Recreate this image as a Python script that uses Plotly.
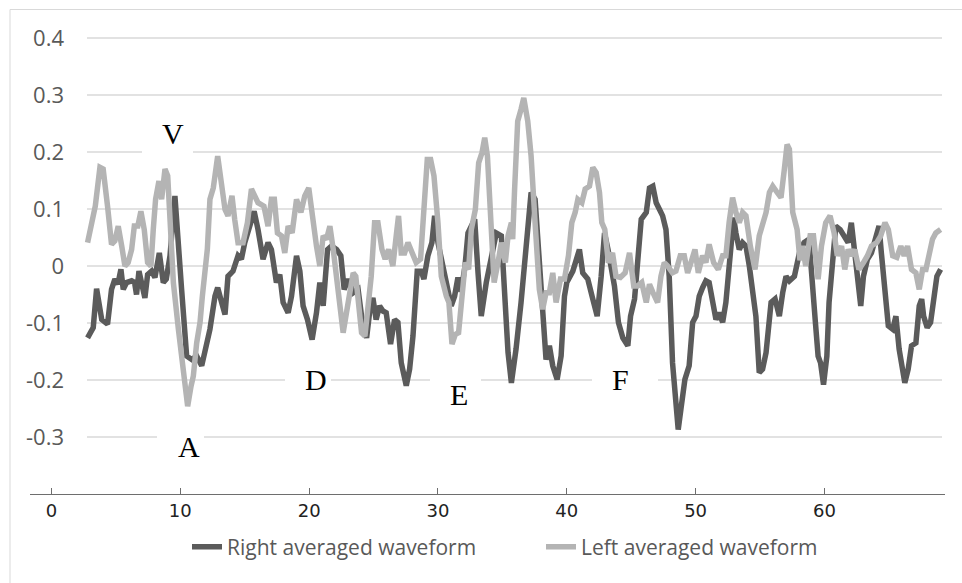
import plotly.graph_objects as go

# ---------------- data ----------------
right_x = [2.80, 3.24, 3.50, 3.70, 3.90, 4.35, 4.66, 4.92, 5.15, 5.39, 5.57, 5.83, 6.22, 6.45, 6.60, 6.79, 7.00, 7.25, 7.46, 7.77,
           8.03, 8.37, 8.68, 8.91, 9.20, 9.58, 10.10, 10.49, 10.88, 11.27, 11.66, 11.92, 12.30, 12.69, 12.90, 13.21, 13.47, 13.70, 14.09, 14.48,
           14.74, 15.00, 15.52, 15.73, 16.03, 16.42, 16.81, 17.07, 17.46, 17.72, 17.98, 18.37, 18.63, 19.02, 19.28, 19.53, 19.87, 20.23, 20.57, 20.83,
           21.09, 21.43, 21.74, 22.13, 22.46, 22.72, 23.03, 23.42, 23.80, 24.07, 24.46, 24.70, 24.95, 25.20, 25.47, 25.73, 25.98, 26.32, 26.63, 26.89,
           27.15, 27.54, 27.80, 28.06, 28.39, 28.70, 28.91, 29.22, 29.53, 29.74, 30.00, 30.39, 30.65, 31.03, 31.29, 31.55, 31.80, 32.10, 32.33, 32.85,
           33.11, 33.36, 33.75, 34.00, 34.53, 34.92, 35.18, 35.44, 35.70, 36.06, 36.45, 36.84, 37.23, 37.54, 37.87, 38.13, 38.39, 38.65, 38.91, 39.25,
           39.56, 39.82, 40.00, 40.47, 40.73, 40.98, 41.24, 41.63, 42.02, 42.36, 42.67, 42.93, 43.20, 43.45, 43.70, 44.01, 44.35, 44.74, 44.95, 45.26,
           45.52, 45.78, 46.17, 46.42, 46.68, 46.94, 47.20, 47.44, 47.70, 47.95, 48.21, 48.42, 48.65, 48.86, 49.17, 49.50, 49.77, 50.03, 50.28, 50.54,
           50.80, 51.05, 51.32, 51.58, 51.83, 52.10, 52.35, 52.60, 52.95, 53.13, 53.39, 53.65, 53.91, 54.17, 54.43, 54.68, 54.94, 55.20, 55.47, 55.86,
           56.17, 56.50, 56.76, 57.02, 57.28, 57.67, 58.06, 58.42, 58.80, 59.07, 59.30, 59.51, 59.70, 59.93, 60.19, 60.36, 60.62, 60.88, 61.22, 61.52,
           61.84, 62.09, 62.35, 62.61, 62.82, 63.03, 63.34, 63.65, 63.91, 64.24, 64.42, 64.70, 64.96, 65.30, 65.55, 65.80, 66.06, 66.24, 66.50, 66.76,
           67.10, 67.36, 67.55, 67.70, 67.98, 68.24, 68.52, 68.73, 69.02]
right_y = [-0.126, -0.108, -0.040, -0.064, -0.094, -0.102, -0.041, -0.023, -0.032, -0.006, -0.041, -0.029, -0.026, -0.029, -0.050, -0.009, -0.032, -0.056, -0.015, -0.009,
           -0.020, 0.023, -0.029, -0.023, 0.018, 0.123, -0.041, -0.158, -0.164, -0.158, -0.175, -0.152, -0.111, -0.053, -0.038, -0.064, -0.085, -0.018, -0.009, 0.018,
           0.012, 0.041, 0.082, 0.096, 0.064, 0.012, 0.041, 0.029, -0.029, -0.015, -0.064, -0.082, -0.053, 0.018, -0.009, -0.070, -0.094, -0.129, -0.082, -0.029,
           -0.070, 0.029, 0.035, 0.029, 0.018, -0.041, -0.023, -0.047, -0.041, -0.088, -0.126, -0.080, -0.056, -0.094, -0.070, -0.079, -0.082, -0.137, -0.094, -0.099,
           -0.170, -0.210, -0.181, -0.123, -0.009, -0.009, -0.023, 0.018, 0.041, 0.088, 0.041, -0.006, -0.035, -0.070, -0.053, -0.020, -0.045, 0.000, 0.058, 0.082,
           -0.012, -0.088, -0.029, 0.000, 0.058, 0.053, -0.041, -0.152, -0.205, -0.146, -0.064, 0.047, 0.129, 0.117, 0.018, -0.088, -0.164, -0.140, -0.175, -0.199,
           -0.158, -0.053, -0.029, -0.009, 0.012, 0.029, -0.012, -0.023, -0.058, -0.088, -0.018, 0.058, 0.029, -0.006, -0.035, -0.099, -0.126, -0.140, -0.088, -0.058,
           0.018, 0.082, 0.094, 0.137, 0.140, 0.111, 0.099, 0.088, 0.064, -0.018, -0.170, -0.216, -0.287, -0.251, -0.199, -0.175, -0.099, -0.088, -0.053, -0.038,
           -0.026, -0.029, -0.064, -0.094, -0.082, -0.099, -0.064, 0.000, 0.085, 0.058, 0.029, 0.041, 0.035, 0.000, -0.041, -0.088, -0.187, -0.181, -0.152, -0.064,
           -0.058, -0.088, -0.047, -0.018, -0.026, -0.018, 0.023, 0.041, 0.047, -0.018, -0.099, -0.158, -0.170, -0.208, -0.158, -0.064, 0.018, 0.070, 0.064, 0.053,
           0.041, 0.076, 0.029, -0.029, -0.070, -0.018, 0.012, 0.023, 0.047, 0.070, 0.023, -0.053, -0.105, -0.111, -0.088, -0.146, -0.181, -0.205, -0.181, -0.140,
           -0.135, -0.070, -0.058, -0.088, -0.108, -0.099, -0.053, -0.018, -0.006]

left_x = [2.80, 3.24, 3.40, 3.76, 4.01, 4.35, 4.66, 4.92, 5.18, 5.45, 5.70, 5.95, 6.22, 6.43, 6.70, 6.94, 7.20, 7.46, 7.72, 7.90,
          8.08, 8.34, 8.55, 8.81, 9.02, 9.20, 9.46, 9.85, 10.23, 10.57, 10.83, 11.01, 11.27, 11.53, 11.71, 11.97, 12.10, 12.30, 12.56, 12.90,
          13.16, 13.47, 13.70, 14.01, 14.22, 14.48, 14.87, 15.21, 15.52, 15.83, 16.03, 16.49, 16.81, 17.07, 17.30, 17.54, 17.85, 18.11, 18.37, 18.68,
          19.02, 19.36, 19.66, 19.97, 20.23, 20.57, 20.83, 21.09, 21.35, 21.61, 21.87, 22.25, 22.64, 23.03, 23.42, 23.62, 23.80, 24.07, 24.33, 24.64,
          24.82, 25.08, 25.34, 25.65, 25.90, 26.17, 26.50, 26.76, 26.94, 27.15, 27.41, 27.67, 27.98, 28.31, 28.65, 28.91, 29.17, 29.43, 29.69, 30.00,
          30.26, 30.65, 30.85, 31.09, 31.35, 31.60, 31.86, 32.12, 32.38, 32.59, 32.90, 33.16, 33.42, 33.63, 33.84, 34.10, 34.36, 34.66, 34.92, 35.23,
          35.44, 35.70, 35.80, 35.95, 36.19, 36.45, 36.66, 36.97, 37.23, 37.54, 37.87, 38.13, 38.39, 38.65, 38.91, 39.17, 39.51, 39.82, 40.13, 40.39,
          40.65, 40.86, 41.17, 41.43, 41.76, 42.02, 42.28, 42.54, 42.72, 42.95, 43.23, 43.55, 43.82, 44.16, 44.53, 44.87, 45.20, 45.50, 45.82, 46.17,
          46.42, 46.70, 47.05, 47.31, 47.57, 47.83, 48.20, 48.47, 48.81, 49.12, 49.38, 49.64, 49.95, 50.21, 50.54, 50.80, 51.05, 51.40, 51.76, 52.10,
          52.35, 52.60, 52.87, 53.13, 53.39, 53.65, 53.91, 54.25, 54.61, 54.94, 55.20, 55.47, 55.73, 55.99, 56.33, 56.63, 56.89, 57.10, 57.28, 57.54,
          57.88, 58.10, 58.29, 58.55, 58.89, 59.15, 59.51, 59.77, 60.10, 60.44, 60.75, 61.00, 61.33, 61.58, 61.84, 62.09, 62.35, 62.68, 63.03, 63.34,
          63.65, 64.06, 64.37, 64.70, 64.96, 65.30, 65.62, 65.93, 66.19, 66.45, 66.76, 67.10, 67.36, 67.62, 67.88, 68.14, 68.39, 68.65, 69.02]
left_y = [0.041, 0.096, 0.105, 0.173, 0.170, 0.105, 0.038, 0.044, 0.070, 0.035, 0.000, 0.006, 0.029, 0.070, 0.070, 0.096, 0.064, 0.006, 0.000, 0.064,
          0.117, 0.149, 0.117, 0.170, 0.158, 0.082, -0.029, -0.111, -0.187, -0.246, -0.211, -0.193, -0.135, -0.099, -0.053, 0.018, 0.030, 0.117, 0.137, 0.193,
          0.146, 0.099, 0.088, 0.123, 0.082, 0.041, 0.041, 0.076, 0.135, 0.123, 0.111, 0.105, 0.070, 0.117, 0.117, 0.058, 0.053, 0.023, 0.070, 0.058,
          0.117, 0.094, 0.123, 0.137, 0.088, 0.035, 0.000, 0.053, 0.047, 0.070, 0.029, -0.053, -0.117, -0.064, -0.012, -0.018, -0.058, -0.117, -0.123, -0.053,
          -0.018, 0.076, 0.076, 0.029, 0.012, 0.029, 0.000, 0.053, 0.088, 0.023, 0.023, 0.041, 0.023, 0.006, 0.012, 0.117, 0.187, 0.187, 0.158, 0.076,
          -0.018, -0.053, -0.064, -0.137, -0.120, -0.117, -0.064, 0.006, -0.006, 0.064, 0.099, 0.181, 0.199, 0.225, 0.193, 0.064, -0.029, 0.006, 0.041, 0.006,
          0.053, 0.076, 0.047, 0.135, 0.254, 0.275, 0.295, 0.254, 0.193, 0.076, -0.041, -0.076, -0.047, -0.047, -0.012, -0.064, -0.023, -0.023, 0.018, 0.076,
          0.094, 0.117, 0.111, 0.135, 0.140, 0.173, 0.164, 0.129, 0.076, 0.064, 0.006, 0.023, -0.018, -0.020, -0.012, 0.023, -0.035, -0.035, -0.029, -0.064,
          -0.032, -0.047, -0.064, -0.018, 0.006, 0.000, -0.012, -0.009, 0.018, 0.018, -0.012, 0.006, 0.029, -0.012, 0.018, 0.006, 0.038, 0.006, -0.006, 0.018,
          0.018, 0.076, 0.120, 0.094, 0.076, 0.094, 0.088, 0.035, -0.006, 0.053, 0.076, 0.094, 0.129, 0.140, 0.129, 0.120, 0.170, 0.213, 0.205, 0.094,
          0.064, 0.010, 0.035, 0.000, 0.053, 0.053, -0.023, 0.035, 0.076, 0.088, 0.058, 0.018, 0.035, -0.006, 0.029, 0.018, 0.029, -0.006, 0.006, 0.018,
          0.035, 0.041, 0.053, 0.076, 0.064, 0.018, 0.015, 0.035, 0.018, 0.035, -0.006, -0.012, -0.041, -0.006, -0.006, 0.023, 0.047, 0.058, 0.064]

series_names = ["Right averaged waveform", "Left averaged waveform"]
x_tick_vals = [0, 10, 20, 30, 40, 50, 60]
y_tick_vals = [0.4, 0.3, 0.2, 0.1, 0.0, -0.1, -0.2, -0.3]
y_tick_text = ["0.4", "0.3", "0.2", "0.1", "0", "-0.1", "-0.2", "-0.3"]
wave_labels = ["V", "A", "D", "E", "F"]

# ---------------- layout geometry ----------------
W, H = 962, 583
ML, MR, MT, MB = 30, 17, 20, 89
X_RANGE = [-1.669, 69.36]
Y_RANGE = [-0.4, 0.4316]

def px_x(px):   # pixel -> data x
    return X_RANGE[0] + (px - ML) / (W - ML - MR) * (X_RANGE[1] - X_RANGE[0])

def px_y(py):   # pixel -> data y
    return Y_RANGE[1] - (py - MT) / (H - MT - MB) * (Y_RANGE[1] - Y_RANGE[0])

def paper_x(px):
    return (px - ML) / (W - ML - MR)

def paper_y(py):
    return (H - MB - py) / (H - MT - MB)

DARK = "#5b5b5b"
LIGHT = "#b4b4b4"

fig = go.Figure()
fig.add_trace(go.Scatter(x=right_x, y=right_y, mode="lines", name=series_names[0],
                         line=dict(color=DARK, width=5.5)))
fig.add_trace(go.Scatter(x=left_x, y=left_y, mode="lines", name=series_names[1],
                         line=dict(color=LIGHT, width=5.5)))

shapes = []
# outer chart border
shapes.append(dict(type="rect", xref="paper", yref="paper",
                   x0=paper_x(10), x1=paper_x(968), y0=paper_y(590), y1=paper_y(9.5),
                   line=dict(color="#d9d9d9", width=1), fillcolor="rgba(0,0,0,0)", layer="below"))
# horizontal gridlines
for v in y_tick_vals:
    shapes.append(dict(type="line", xref="x", yref="y", x0=px_x(87), x1=px_x(942), y0=v, y1=v,
                       line=dict(color="#d9d9d9", width=1.3), layer="below"))
# white text boxes behind the wave labels (cover gridlines)
boxes = [(142, 193, 111, 155), (157, 204, 424, 468), (285, 331, 357, 401),
         (430, 481, 372, 416), (592, 658, 357, 401)]
for (bx0, bx1, by0, by1) in boxes:
    shapes.append(dict(type="rect", xref="x", yref="y", x0=px_x(bx0), x1=px_x(bx1),
                       y0=px_y(by1), y1=px_y(by0), line=dict(width=0), fillcolor="white", layer="below"))

label_pos = [(173, 133), (188.5, 446), (316, 379), (459, 394), (620, 379)]
annotations = []
for lab, (lx, ly) in zip(wave_labels, label_pos):
    annotations.append(dict(x=px_x(lx), y=px_y(ly), xref="x", yref="y", text=lab, showarrow=False,
                            xanchor="center", yanchor="middle",
                            font=dict(family="Liberation Serif", size=30, color="#000000")))

fig.update_layout(
    width=W, height=H,
    margin=dict(l=ML, r=MR, t=MT, b=MB, autoexpand=False),
    paper_bgcolor="white", plot_bgcolor="white",
    shapes=shapes, annotations=annotations,
    xaxis=dict(range=X_RANGE, showgrid=False, zeroline=False, showline=True, linecolor="#6e6e6e", linewidth=1.2,
               ticks="inside", ticklen=6, tickcolor="#6e6e6e", tickvals=x_tick_vals,
               tickfont=dict(family="DejaVu Sans", size=18, color="#222222")),
    yaxis=dict(range=Y_RANGE, showgrid=False, zeroline=False, showline=False, anchor="free",
               position=paper_x(64), tickvals=y_tick_vals, ticktext=y_tick_text, ticks="",
               tickfont=dict(family="Open Sans", size=22, color="#595959")),
    showlegend=True,
    legend=dict(orientation="h", x=paper_x(187), xanchor="left", y=paper_y(547), yanchor="middle",
                font=dict(family="Open Sans", size=21, color="#595959"),
                entrywidth=309, entrywidthmode="pixels", bgcolor="rgba(0,0,0,0)"),
)

fig.write_html("out.html", config={"displayModeBar": False},
               post_script="document.body.style.margin='0';")
